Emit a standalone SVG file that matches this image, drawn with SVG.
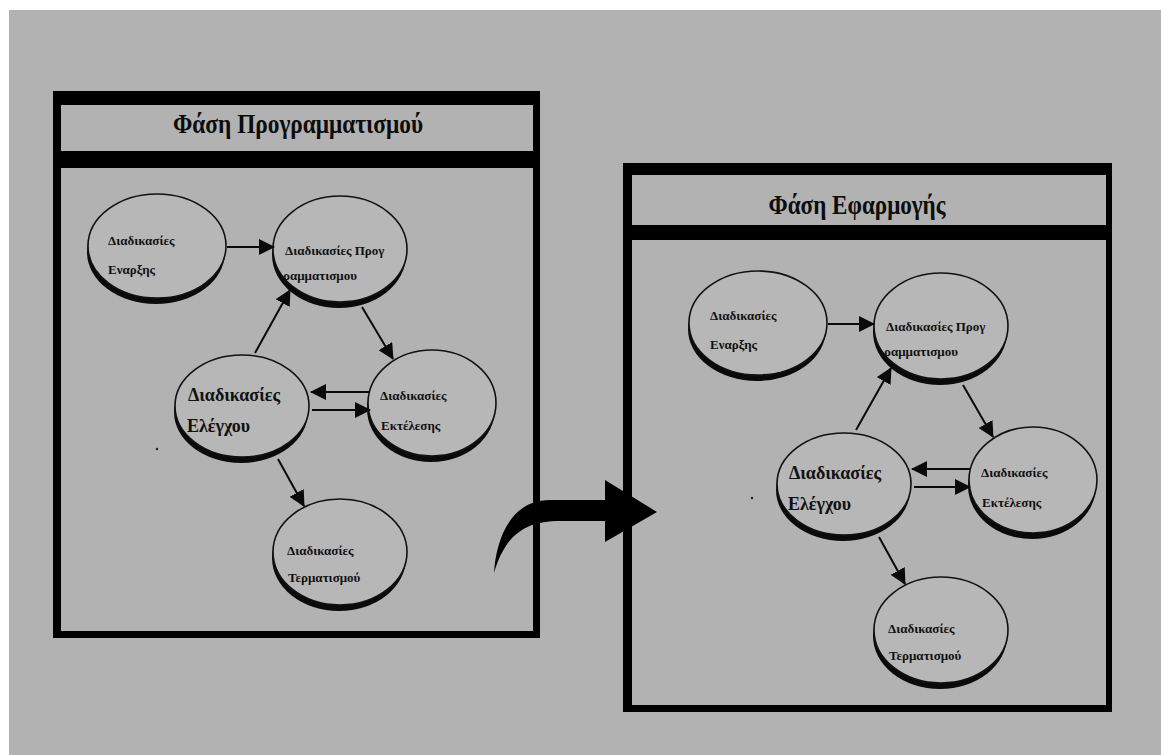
<svg xmlns="http://www.w3.org/2000/svg" width="1161" height="755" viewBox="0 0 1161 755">
  <style>
    .frame { fill: #000; }
    .inner { fill: #b2b2b2; }
    .shadow { fill: #0a0a0a; }
    .bubble { fill: #b7b7b7; stroke: #111; stroke-width: 1.6; }
    .title { font-family: "Liberation Serif", "DejaVu Serif", serif; font-weight: bold; font-size: 28px; fill: #0c0c0c; }
    .lbl { font-family: "Liberation Serif", "DejaVu Serif", serif; font-weight: bold; font-size: 13px; fill: #111; }
    .big { font-family: "Liberation Serif", "DejaVu Serif", serif; font-weight: bold; font-size: 18px; fill: #111; }
    .edge { stroke: #0a0a0a; stroke-width: 2; fill: none; marker-end: url(#head); }
  </style>
  <defs>
    <marker id="head" markerUnits="userSpaceOnUse" viewBox="0 0 16 16" markerWidth="16" markerHeight="16" refX="15" refY="8" orient="auto">
      <path d="M0,0 L16,8 L0,16 z" fill="#0a0a0a"/>
    </marker>
  </defs>

  <!-- page -->
  <rect x="0" y="0" width="1161" height="755" fill="#ffffff"/>
  <rect x="9" y="10" width="1152" height="745" fill="#b2b2b2"/>

  <!-- planning phase panel -->
  <g id="panel-planning">
    <rect class="frame" x="53" y="91" width="487" height="547"/>
    <rect class="inner" x="61" y="105" width="472" height="46"/>
    <rect class="inner" x="61" y="168" width="472" height="463"/>
    <text class="title" x="298" y="133" text-anchor="middle" textLength="250" lengthAdjust="spacingAndGlyphs">Φάση Προγραμματισμού</text>
  </g>

  <!-- implementation phase panel -->
  <g id="panel-implementation">
    <rect class="frame" x="623" y="163" width="489" height="549"/>
    <rect class="inner" x="632" y="175" width="474" height="50"/>
    <rect class="inner" x="632" y="240" width="474" height="465"/>
    <text class="title" x="857" y="214" text-anchor="middle" textLength="177" lengthAdjust="spacingAndGlyphs">Φάση Εφαρμογής</text>
  </g>

  <!-- planning phase nodes -->
  <g id="p-start">
    <ellipse class="shadow" cx="156" cy="252" rx="69" ry="52"/>
    <ellipse class="bubble" cx="157" cy="246" rx="69" ry="52"/>
    <text class="lbl" x="108" y="245">Διαδικασίες</text>
    <text class="lbl" x="108" y="274">Εναρξης</text>
  </g>
  <g id="p-plan">
    <ellipse class="shadow" cx="339" cy="255" rx="67" ry="53"/>
    <ellipse class="bubble" cx="340" cy="249" rx="67" ry="53"/>
    <text class="lbl" x="285" y="255">Διαδικασίες Προγ</text>
    <text class="lbl" x="283" y="280">ραμματισμου</text>
  </g>
  <g id="p-control">
    <ellipse class="shadow" cx="241" cy="412" rx="67" ry="51"/>
    <ellipse class="bubble" cx="242" cy="406" rx="67" ry="51"/>
    <text class="big" x="188" y="401">Διαδικασίες</text>
    <text class="big" x="187" y="432">Ελέγχου</text>
  </g>
  <g id="p-exec">
    <ellipse class="shadow" cx="431" cy="409" rx="64" ry="53"/>
    <ellipse class="bubble" cx="432" cy="403" rx="64" ry="53"/>
    <text class="lbl" x="380" y="400">Διαδικασίες</text>
    <text class="lbl" x="381" y="430">Εκτέλεσης</text>
  </g>
  <g id="p-end">
    <ellipse class="shadow" cx="339" cy="558" rx="67" ry="53"/>
    <ellipse class="bubble" cx="340" cy="552" rx="67" ry="53"/>
    <text class="lbl" x="287" y="555">Διαδικασίες</text>
    <text class="lbl" x="288" y="582">Τερματισμού</text>
  </g>

  <!-- implementation phase nodes -->
  <g id="i-start">
    <ellipse class="shadow" cx="757" cy="329" rx="69" ry="52"/>
    <ellipse class="bubble" cx="758" cy="323" rx="69" ry="52"/>
    <text class="lbl" x="710" y="320">Διαδικασίες</text>
    <text class="lbl" x="710" y="349">Εναρξης</text>
  </g>
  <g id="i-plan">
    <ellipse class="shadow" cx="940" cy="332" rx="67" ry="53"/>
    <ellipse class="bubble" cx="941" cy="326" rx="67" ry="53"/>
    <text class="lbl" x="886" y="331">Διαδικασίες Προγ</text>
    <text class="lbl" x="884" y="356">ραμματισμου</text>
  </g>
  <g id="i-control">
    <ellipse class="shadow" cx="843" cy="490" rx="67" ry="51"/>
    <ellipse class="bubble" cx="844" cy="484" rx="67" ry="51"/>
    <text class="big" x="789" y="479">Διαδικασίες</text>
    <text class="big" x="788" y="510">Ελέγχου</text>
  </g>
  <g id="i-exec">
    <ellipse class="shadow" cx="1032" cy="486" rx="64" ry="53"/>
    <ellipse class="bubble" cx="1033" cy="480" rx="64" ry="53"/>
    <text class="lbl" x="981" y="477">Διαδικασίες</text>
    <text class="lbl" x="982" y="507">Εκτέλεσης</text>
  </g>
  <g id="i-end">
    <ellipse class="shadow" cx="940" cy="636" rx="67" ry="53"/>
    <ellipse class="bubble" cx="941" cy="630" rx="67" ry="53"/>
    <text class="lbl" x="888" y="633">Διαδικασίες</text>
    <text class="lbl" x="889" y="660">Τερματισμού</text>
  </g>

  <!-- connectors -->
  <g id="connectors">
    <line class="edge" x1="227" y1="247" x2="274" y2="247"/>
    <line class="edge" x1="255" y1="353" x2="290" y2="290"/>
    <line class="edge" x1="362" y1="307" x2="393" y2="359"/>
    <line class="edge" x1="370" y1="392" x2="311" y2="392"/>
    <line class="edge" x1="312" y1="410" x2="370" y2="410"/>
    <line class="edge" x1="278" y1="459" x2="304" y2="506"/>

    <line class="edge" x1="828" y1="324" x2="874" y2="324"/>
    <line class="edge" x1="856" y1="430" x2="891" y2="368"/>
    <line class="edge" x1="963" y1="385" x2="993" y2="437"/>
    <line class="edge" x1="970" y1="469" x2="912" y2="469"/>
    <line class="edge" x1="914" y1="487" x2="970" y2="487"/>
    <line class="edge" x1="879" y1="537" x2="905" y2="584"/>

    <!-- phase transition arrow -->
    <path d="M494,573 C496,540 510,500 550,500 L605,500 L605,480 L657,512 L605,542 L605,521 L560,521 C525,521 505,535 494,573 Z" fill="#000"/>
  </g>

  <!-- specks -->
  <circle cx="157" cy="449" r="1.2" fill="#222"/>
  <circle cx="752" cy="498" r="1.2" fill="#222"/>
</svg>
